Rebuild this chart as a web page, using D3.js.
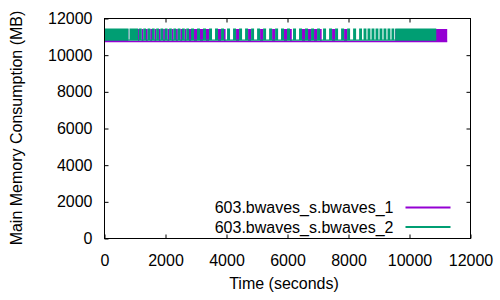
<!DOCTYPE html>
<html>
<head>
<meta charset="utf-8">
<script src="https://cdn.jsdelivr.net/npm/d3@7"></script>
<style>
  html, body { margin: 0; padding: 0; background: #fff; }
  svg { display: block; }
  text { font-family: "Liberation Sans", Arial, sans-serif; font-size: 16px; fill: #000; }
</style>
</head>
<body>
<svg id="chart" width="500" height="300"></svg>
<script>
// tick values
const xTicks = [0, 2000, 4000, 6000, 8000, 10000, 12000];
const yTicks = [0, 2000, 4000, 6000, 8000, 10000, 12000];

const seriesNames = ['603.bwaves_s.bwaves_1', '603.bwaves_s.bwaves_2'];
const seriesColors = ['#9400d3', '#009e73'];

// memory levels (MB): resting level and peak level of each run
const bwaves1Low = 10745;
const bwaves1High = 11430;
const bwaves2Low = 10822;
const bwaves2High = 11460;
const bwaves1End = 11236;
const bwaves2End = 10877;

// [start, end] seconds where the run sits at its peak level
const bwaves1Bursts = [
  [0, 780],
  [1100, 1135], [1218, 1275], [1359, 1416], [1500, 1557], [1641, 1698], [1782, 1839],
  [1923, 1980], [2064, 2121], [2205, 2262], [2346, 2403], [2487, 2544], [2628, 2685], [2769, 2840],
  [2934, 3033], [3131, 3230], [3328, 3427], [3722, 3821], [3919, 3970], [4313, 4412],
  [4707, 4806], [5101, 5200], [5495, 5594],
  [5885, 5984], [6082, 6140], [6476, 6575], [6673, 6772], [6870, 6969], [7067, 7120],
  [7461, 7560], [7855, 7954],
  [9532, 11236]
];
const bwaves2Bursts = [
  [0, 787], [820, 1105],
  [1131, 1221], [1272, 1362], [1413, 1503], [1554, 1644], [1695, 1785], [1836, 1926],
  [1977, 2067], [2118, 2208], [2259, 2349], [2400, 2490], [2541, 2631], [2682, 2772],
  [2836, 2934], [3033, 3131], [3230, 3328], [3427, 3525], [3624, 3722], [3821, 3919],
  [4018, 4116], [4215, 4313], [4412, 4510], [4609, 4707], [4806, 4904], [5003, 5101],
  [5200, 5298], [5397, 5495], [5594, 5692],
  [5787, 5885], [5984, 6082], [6181, 6279], [6378, 6476], [6575, 6673], [6772, 6870],
  [6969, 7067], [7166, 7264], [7363, 7461], [7560, 7658], [7757, 7855], [7954, 8052],
  [8151, 8249], [8348, 8443],
  [8493, 8588], [8624, 8719], [8755, 8850], [8886, 8981], [9017, 9112], [9148, 9243],
  [9279, 9374], [9410, 9500],
  [9532, 10877]
];

const svg = d3.select('#chart');
const margin = { left: 104, right: 30, top: 18, bottom: 62 };
const width = 500 - margin.left - margin.right;
const height = 300 - margin.top - margin.bottom;

const x = d3.scaleLinear().domain([0, 12000]).range([0, width]);
const y = d3.scaleLinear().domain([0, 12000]).range([height, 0]);

svg.append('rect').attr('width', 500).attr('height', 300).attr('fill', '#fff');

const g = svg.append('g')
  .attr('transform', `translate(${margin.left + 0.5},${margin.top + 0.5})`);

// turn burst intervals into a step profile
function profile(bursts, low, high) {
  const pts = [];
  bursts.forEach(([s, e]) => {
    pts.push([s, low], [s, high], [e, high], [e, low]);
  });
  return pts;
}

const area = d3.area()
  .x(d => x(d[0]))
  .y0(d => y(d.low))
  .y1(d => y(d[1]));

const series = [
  { bursts: bwaves1Bursts, low: bwaves1Low, high: bwaves1High, end: bwaves1End },
  { bursts: bwaves2Bursts, low: bwaves2Low, high: bwaves2High, end: bwaves2End }
];

series.forEach((s, i) => {
  const pts = profile(s.bursts, s.low, s.high);
  g.append('path')
    .datum(pts)
    .attr('fill', seriesColors[i])
    .attr('stroke', 'none')
    .attr('d', d3.area().x(d => x(d[0])).y0(y(s.low)).y1(d => y(d[1])));

  // resting line along the bottom
  g.append('line')
    .attr('x1', x(0)).attr('x2', x(s.end))
    .attr('y1', y(s.low)).attr('y2', y(s.low))
    .attr('stroke', seriesColors[i])
    .attr('stroke-width', 1.4);
});

// axes, ticks drawn inward on all four sides
g.append('g')
  .attr('transform', `translate(0,${height})`)
  .call(d3.axisBottom(x).tickValues(xTicks).tickSize(-4).tickSizeOuter(0).tickPadding(16).tickFormat(d3.format('d')))
  .call(a => a.select('.domain').remove());

g.append('g')
  .call(d3.axisLeft(y).tickValues(yTicks).tickSize(-4).tickSizeOuter(0).tickPadding(12).tickFormat(d3.format('d')))
  .call(a => a.select('.domain').remove());

g.append('g')
  .call(d3.axisTop(x).tickValues(xTicks.slice(1, -1)).tickSize(-4).tickSizeOuter(0).tickFormat(''))
  .call(a => a.select('.domain').remove());

g.append('g')
  .attr('transform', `translate(${width},0)`)
  .call(d3.axisRight(y).tickValues(yTicks.slice(1, -1)).tickSize(-4).tickSizeOuter(0).tickFormat(''))
  .call(a => a.select('.domain').remove());

g.selectAll('.tick text').style('font-size', '16px').style('font-family', '"Liberation Sans", Arial, sans-serif');
g.selectAll('.tick line').attr('stroke', '#000');

g.append('rect')
  .attr('width', width).attr('height', height)
  .attr('fill', 'none').attr('stroke', '#000').attr('stroke-width', 1);

// legend
const legend = g.append('g');
seriesNames.forEach((name, i) => {
  const ly = 189 + i * 19.5;
  legend.append('text')
    .attr('x', 289).attr('y', ly).attr('dy', '0.35em')
    .attr('text-anchor', 'end')
    .text(name);
  legend.append('line')
    .attr('x1', 301).attr('x2', 346)
    .attr('y1', ly).attr('y2', ly)
    .attr('stroke', seriesColors[i])
    .attr('stroke-width', 2);
});

// axis titles
svg.append('text')
  .attr('x', 284).attr('y', 289)
  .attr('text-anchor', 'middle')
  .text('Time (seconds)');

svg.append('text')
  .attr('transform', 'translate(22,128) rotate(-90)')
  .attr('text-anchor', 'middle')
  .text('Main Memory Consumption (MB)');
</script>
</body>
</html>
